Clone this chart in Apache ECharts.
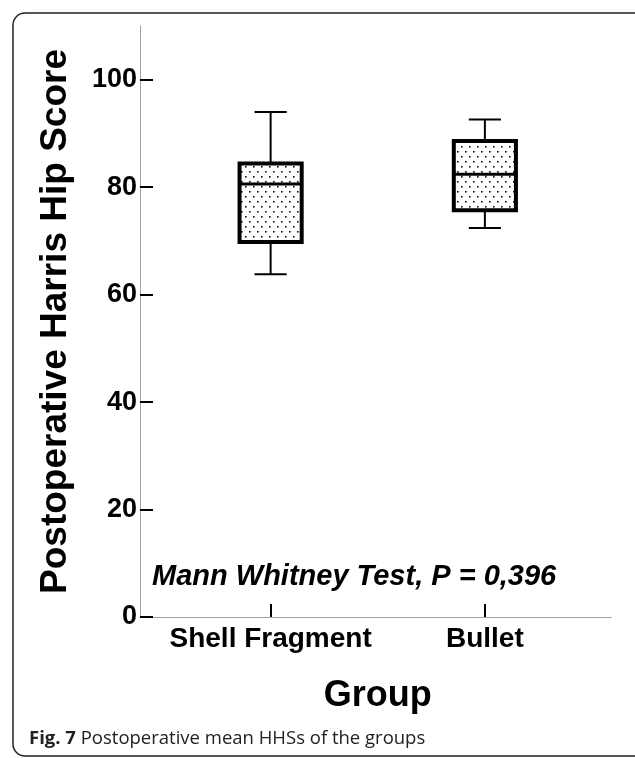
<!DOCTYPE html>
<html>
<head>
<meta charset="utf-8">
<script src="https://cdn.jsdelivr.net/npm/echarts@6/dist/echarts.min.js"></script>
<style>
html,body{margin:0;padding:0;background:#fff;}
#chart{width:635px;height:758px;}
</style>
</head>
<body>
<div id="chart"></div>
<script>
// ---- data ----
const categories = ['Shell Fragment', 'Bullet'];
// [min whisker, Q1, median, Q3, max whisker]
const shellBox = [63.8, 69.8, 80.6, 84.4, 94.0];
const bulletBox = [72.4, 75.7, 82.4, 88.6, 92.6];
const yTicks = [0, 20, 40, 60, 80, 100];
const yMin = 0, yMax = 110;
const annotation = 'Mann Whitney Test, P = 0,396';
const yTitle = 'Postoperative Harris Hip Score';
const xTitle = 'Group';
const captionBold = 'Fig. 7';
const captionText = ' Postoperative mean HHSs of the groups';

const boxes = [shellBox, bulletBox];
const seriesData = boxes.map((b, i) => [i].concat(b));

// dotted fill pattern
const pc = document.createElement('canvas');
pc.width = 8; pc.height = 10;
const pctx = pc.getContext('2d');
pctx.fillStyle = '#fff';
pctx.fillRect(0, 0, 8, 10);
pctx.fillStyle = '#111';
pctx.fillRect(1, 1, 1.6, 1.6);
pctx.fillRect(5, 6, 1.6, 1.6);
const pattern = { image: pc, repeat: 'repeat' };

const FONT = '"Liberation Sans", Arial, sans-serif';
const axisGray = '#a3a3a3';

function renderItem(params, api) {
  const idx = api.value(0);
  const lo = api.coord([idx, api.value(1)]);
  const q1 = api.coord([idx, api.value(2)]);
  const med = api.coord([idx, api.value(3)]);
  const q3 = api.coord([idx, api.value(4)]);
  const hi = api.coord([idx, api.value(5)]);
  const band = api.size([1, 0])[0];
  const bw = band * 0.29;
  const cw = band * 0.15;
  const x = lo[0];
  const thin = { stroke: '#000', lineWidth: 2 };
  return {
    type: 'group',
    children: [
      { type: 'line', shape: { x1: x, y1: hi[1], x2: x, y2: q3[1] }, style: thin },
      { type: 'line', shape: { x1: x, y1: q1[1], x2: x, y2: lo[1] }, style: thin },
      { type: 'line', shape: { x1: x - cw / 2, y1: hi[1], x2: x + cw / 2, y2: hi[1] }, style: thin },
      { type: 'line', shape: { x1: x - cw / 2, y1: lo[1], x2: x + cw / 2, y2: lo[1] }, style: thin },
      { type: 'rect', shape: { x: x - bw / 2, y: q3[1], width: bw, height: q1[1] - q3[1] },
        style: { fill: pattern, stroke: '#000', lineWidth: 4 } },
      { type: 'line', shape: { x1: x - bw / 2, y1: med[1], x2: x + bw / 2, y2: med[1] },
        style: { stroke: '#000', lineWidth: 3 } }
    ]
  };
}

const chart = echarts.init(document.getElementById('chart'), null, { renderer: 'canvas' });

const option = {
  animation: false,
  backgroundColor: '#fff',
  grid: [
    { left: 140, right: 24, top: 26, bottom: 141 },
    { left: 163.5, right: 43, top: 26, bottom: 141 }
  ],
  xAxis: [
    { gridIndex: 0, type: 'value', min: 0, max: 1,
      axisLine: { show: true, lineStyle: { color: axisGray, width: 1 } },
      axisTick: { show: false }, axisLabel: { show: false }, splitLine: { show: false } },
    { gridIndex: 0, type: 'value', min: 0, max: 1, offset: 2,
      axisLine: { show: true, lineStyle: { color: axisGray, width: 1 } },
      axisTick: { show: false }, axisLabel: { show: false }, splitLine: { show: false } },
    { gridIndex: 1, type: 'category', data: categories,
      axisLine: { show: false },
      axisTick: { show: true, inside: true, alignWithLabel: true, interval: 0, length: 13,
        lineStyle: { color: '#000', width: 2 } },
      axisLabel: { color: '#000', fontFamily: FONT, fontWeight: 'bold', fontSize: 28, margin: 8,
        interval: 0, hideOverlap: false },
      name: xTitle, nameLocation: 'middle', nameGap: 61,
      nameTextStyle: { color: '#000', fontFamily: FONT, fontWeight: 'bold', fontSize: 36 },
      splitLine: { show: false } }
  ],
  yAxis: [
    { gridIndex: 0, type: 'value', min: yMin, max: yMax, interval: 20,
      axisLine: { show: true, lineStyle: { color: axisGray, width: 1 } },
      axisTick: { show: true, inside: true, length: 13, customValues: yTicks,
        lineStyle: { color: '#000', width: 2 } },
      axisLabel: { color: '#000', fontFamily: FONT, fontWeight: 'bold', fontSize: 27, margin: 3,
        customValues: yTicks },
      splitLine: { show: false },
      name: yTitle, nameLocation: 'middle', nameRotate: 90, nameGap: 66,
      nameTextStyle: { color: '#000', fontFamily: FONT, fontWeight: 'bold', fontSize: 37 } },
    { gridIndex: 0, type: 'value', min: yMin, max: yMax, offset: 2,
      axisLine: { show: true, lineStyle: { color: axisGray, width: 1 } },
      axisTick: { show: false }, axisLabel: { show: false }, splitLine: { show: false } },
    { gridIndex: 1, type: 'value', min: yMin, max: yMax, show: false }
  ],
  graphic: [
    { type: 'rect', z: -1, silent: true,
      shape: { x: 13, y: 13, width: 640, height: 743, r: 12 },
      style: { fill: 'none', stroke: '#222', lineWidth: 1.5 } },
    { type: 'text', left: 152, top: 562,
      style: { text: annotation, fill: '#000', font: 'italic bold 29px ' + FONT } },
    { type: 'text', left: 29, top: 729,
      style: { text: '{b|' + captionBold + '}{n|' + captionText + '}',
        rich: {
          b: { fontFamily: '"Open Sans", sans-serif', fontWeight: 'bold', fontSize: 18.5, fill: '#222' },
          n: { fontFamily: '"Open Sans", sans-serif', fontSize: 18.5, fill: '#222' }
        } } }
  ],
  series: [
    { type: 'custom', xAxisIndex: 2, yAxisIndex: 2, renderItem: renderItem,
      encode: { x: 0, y: [1, 2, 3, 4, 5] }, data: seriesData, clip: false }
  ]
};
chart.setOption(option);
</script>
</body>
</html>
